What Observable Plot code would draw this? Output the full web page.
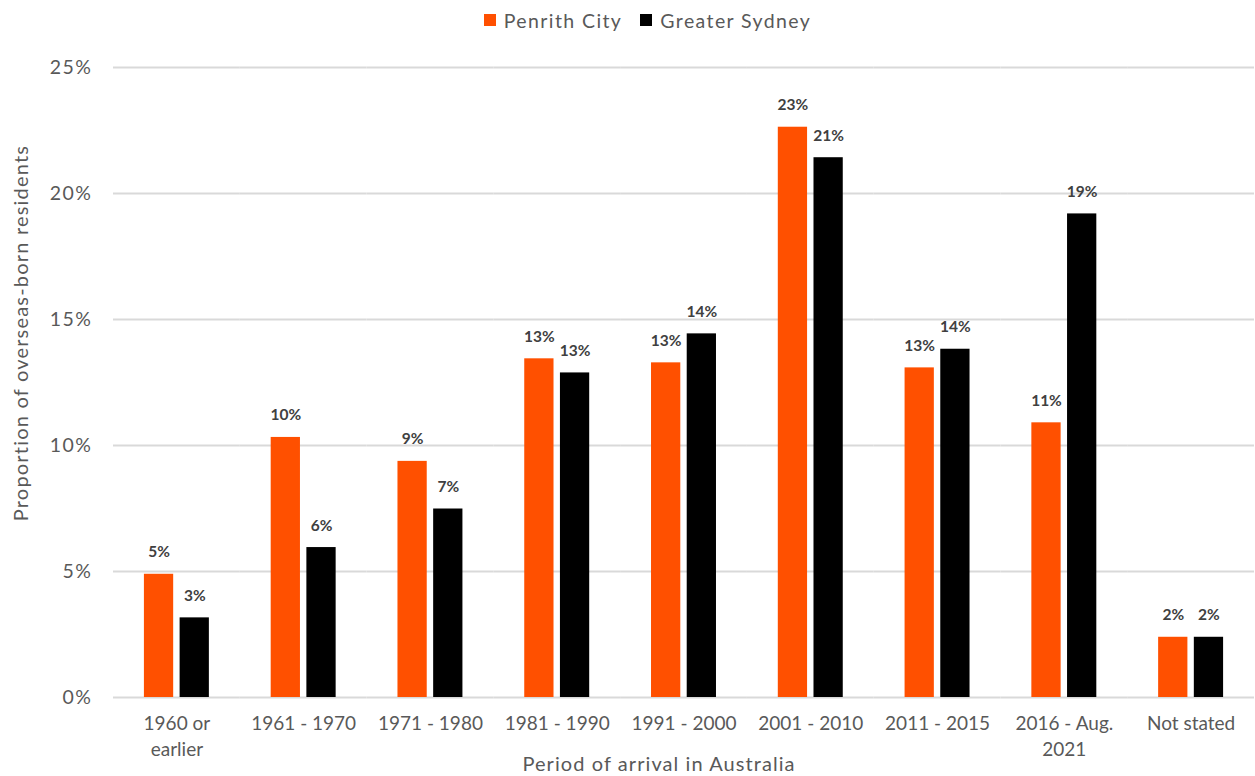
<!DOCTYPE html>
<html>
<head>
<meta charset="utf-8">
<script src="https://cdn.jsdelivr.net/npm/d3@7"></script>
<script src="https://cdn.jsdelivr.net/npm/@observablehq/plot@0.6"></script>
<style>
  html, body { margin: 0; padding: 0; background: #fff; }
  body { width: 1255px; height: 776px; overflow: hidden; font-family: Lato, sans-serif; }
  #legend { height: 40px; display: flex; justify-content: center; align-items: center; gap: 18px; font-size: 19.5px; letter-spacing: 1.4px; color: #595959; padding-left: 40px; box-sizing: border-box; }
  #legend span.item { display: flex; align-items: center; gap: 8px; }
  #legend span.sw { width: 12px; height: 12px; display: inline-block; }
  #chart svg { display: block; }
  #chart g[aria-label="y-axis tick label"] { letter-spacing: 1.5px; }
</style>
</head>
<body>
<div id="legend"></div>
<div id="chart"></div>
<script>
const categories = ["1960 or earlier", "1961 - 1970", "1971 - 1980", "1981 - 1990", "1991 - 2000", "2001 - 2010", "2011 - 2015", "2016 - Aug. 2021", "Not stated"];
const tickLabels = ["1960 or\nearlier", "1961 - 1970", "1971 - 1980", "1981 - 1990", "1991 - 2000", "2001 - 2010", "2011 - 2015", "2016 - Aug.\n2021", "Not stated"];
const seriesNames = ["Penrith City", "Greater Sydney"];
const seriesColors = ["#FF5000", "#000000"];
const penrith = [4.89, 10.32, 9.37, 13.44, 13.28, 22.63, 13.08, 10.9, 2.39];
const sydney = [3.16, 5.95, 7.48, 12.88, 14.43, 21.42, 13.82, 19.19, 2.39];
const yTicks = [0, 5, 10, 15, 20, 25];
const yTitle = "Proportion of overseas-born residents";
const xTitle = "Period of arrival in Australia";

const data = [];
categories.forEach((c, i) => {
  data.push({category: c, series: seriesNames[0], value: penrith[i]});
  data.push({category: c, series: seriesNames[1], value: sydney[i]});
});
const labelOf = new Map(categories.map((c, i) => [c, tickLabels[i]]));

// legend
const legend = document.getElementById("legend");
seriesNames.forEach((s, i) => {
  const item = document.createElement("span");
  item.className = "item";
  const sw = document.createElement("span");
  sw.className = "sw";
  sw.style.background = seriesColors[i];
  item.appendChild(sw);
  item.appendChild(document.createTextNode(s));
  legend.appendChild(item);
});

const chart = Plot.plot({
  width: 1255,
  height: 736,
  marginTop: 27,
  marginBottom: 79,
  marginLeft: 113,
  marginRight: 1,
  style: {fontFamily: "Lato, sans-serif", color: "#595959", background: "#fff", overflow: "visible"},
  fx: {domain: categories, padding: 0, round: false},
  x: {domain: seriesNames, paddingInner: 0.18, paddingOuter: 0.866, round: false, axis: null},
  y: {domain: [0, 25]},
  color: {domain: seriesNames, range: seriesColors},
  marks: [
    Plot.ruleY(yTicks, {stroke: "#d9d9d9", strokeWidth: 2}),
    Plot.barY(data, {fx: "category", x: "series", y: "value", fill: "series"}),
    Plot.text(data, {fx: "category", x: "series", y: "value", text: d => Math.round(d.value) + "%", dy: -22, fontWeight: "bold", fontSize: 15.5, fill: "#404040"}),
    Plot.axisY({ticks: yTicks, tickFormat: d => d + "%", tickSize: 0, tickPadding: 21, fontSize: 19.5, label: null}),
    Plot.axisFx({anchor: "bottom", tickFormat: d => labelOf.get(d), tickSize: 0, tickPadding: 14, fontSize: 19, lineHeight: 1.37, label: null}),
    Plot.text([yTitle], {fx: () => categories[0], frameAnchor: "left", textAnchor: "middle", lineAnchor: "middle", rotate: -90, dx: -92, dy: -49.5, fontSize: 20, fill: "#595959"}),
    Plot.text([xTitle], {fx: () => categories[4], frameAnchor: "bottom", textAnchor: "middle", lineAnchor: "middle", dx: -25, dy: 67, fontSize: 20, fill: "#595959"})
  ]
});
document.getElementById("chart").appendChild(chart);

// widen the two axis titles to match the reference's spacing
d3.select(chart).selectAll("text")
  .filter(function () { return this.textContent === yTitle; })
  .style("letter-spacing", "1.2px");
d3.select(chart).selectAll("text")
  .filter(function () { return this.textContent === xTitle; })
  .style("letter-spacing", "1.07px");
</script>
</body>
</html>
